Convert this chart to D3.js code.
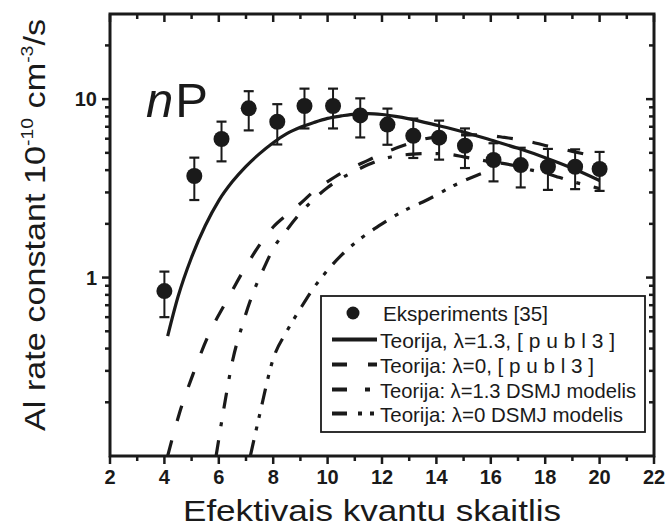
<!DOCTYPE html>
<html><head><meta charset="utf-8">
<script src="https://cdn.jsdelivr.net/npm/d3@7"></script>
<style>html,body{margin:0;padding:0;background:#fff;}svg{display:block;}</style>
</head><body>
<svg id="chart" width="666" height="528"></svg>
<script>
// ---- data ----
const expX   = [4, 5.1, 6.1, 7.1, 8.15, 9.15, 10.2, 11.2, 12.2, 13.15, 14.1, 15.05, 16.1, 17.1, 18.1, 19.1, 20];
const expY   = [0.84, 3.71, 5.98, 8.88, 7.47, 9.15, 9.15, 8.1, 7.2, 6.23, 6.08, 5.48, 4.56, 4.27, 4.18, 4.18, 4.06];
const expErr = [0.24, 0.99, 1.5, 2.2, 1.9, 2.3, 2.3, 2.0, 1.65, 1.55, 1.5, 1.37, 1.1, 1.07, 1.08, 1.05, 1.0];

const solidX = [4.12, 4.5, 5.0, 5.5, 6.0, 6.5, 7.0, 7.5, 8.0, 8.5, 9.0, 9.5, 10, 10.5, 11, 11.5, 12, 12.5, 13, 14, 15, 16, 17, 18, 19, 20];
const solidY = [0.47, 0.78, 1.3, 1.95, 2.7, 3.45, 4.2, 4.95, 5.7, 6.4, 6.95, 7.4, 7.8, 8.05, 8.25, 8.3, 8.2, 8.0, 7.75, 7.15, 6.55, 5.9, 5.3, 4.7, 4.1, 3.5];

const dashX = [4.12, 4.55, 5.04, 5.59, 6.33, 7.12, 8.0, 8.5, 9.0, 9.5, 10, 10.5, 11, 11.5, 12, 12.5, 13, 13.5, 14, 14.5, 15, 15.5, 16, 16.5, 17, 17.5, 18, 18.5, 19, 19.5, 20];
const dashY = [0.1, 0.173, 0.284, 0.464, 0.76, 1.24, 1.92, 2.25, 2.6, 3.05, 3.45, 3.85, 4.2, 4.55, 4.95, 5.3, 5.65, 5.95, 6.15, 6.25, 6.3, 6.3, 6.25, 6.1, 5.95, 5.75, 5.5, 5.3, 5.1, 4.9, 4.7];

const dashDotX = [5.9, 6.2, 6.51, 6.88, 7.3, 7.67, 8.0, 8.5, 9.0, 9.5, 10, 10.5, 11, 11.5, 12, 12.5, 13, 13.5, 14, 14.5, 15, 15.5, 16, 16.5, 17, 17.5, 18, 18.5, 19, 19.5, 20];
const dashDotY = [0.1, 0.19, 0.344, 0.55, 0.85, 1.14, 1.45, 1.85, 2.3, 2.75, 3.2, 3.6, 3.95, 4.3, 4.6, 4.8, 4.9, 4.95, 4.95, 4.9, 4.75, 4.6, 4.45, 4.35, 4.2, 4.0, 3.85, 3.65, 3.45, 3.3, 3.15];

const dddX = [7.16, 7.5, 8.0, 8.5, 9.0, 9.5, 10, 10.5, 11, 11.5, 12, 12.5, 13, 13.5, 14, 14.5, 15, 15.5, 15.8];
const dddY = [0.1, 0.17, 0.35, 0.5, 0.67, 0.88, 1.1, 1.33, 1.56, 1.78, 2.0, 2.23, 2.45, 2.65, 2.9, 3.2, 3.48, 3.75, 3.9];

const xMajor = [2, 4, 6, 8, 10, 12, 14, 16, 18, 20, 22];
const xMinor = [3, 5, 7, 9, 11, 13, 15, 17, 19, 21];
const yMajor = [1, 10];
const yMinor = [0.2, 0.3, 0.4, 0.5, 0.6, 0.7, 0.8, 0.9, 2, 3, 4, 5, 6, 7, 8, 9, 20];

const legendLabels = ["Eksperiments [35]", "Teorija, \u03bb=1.3, [ p u b l 3 ]", "Teorija: \u03bb=0, [ p u b l 3 ]", "Teorija: \u03bb=1.3 DSMJ modelis", "Teorija: \u03bb=0 DSMJ modelis"];
const legendWidths = [165, 235, 214, 256, 243];

// ---- layout ----
const L = 110, R = 654, T = 14, B = 456;
const svg = d3.select("#chart");
const x = d3.scaleLinear().domain([2, 22]).range([L, R]);
const y = d3.scaleLog().domain([0.1, 30]).range([B, T]);
const tickFont = "'Liberation Sans Narrow','Liberation Sans',Arial,sans-serif";
const textFont = "'Liberation Sans',Arial,sans-serif";

svg.append("defs").append("clipPath").attr("id", "clip")
  .append("rect").attr("x", L).attr("y", T).attr("width", R - L).attr("height", B - T);

const line = d3.line().x(d => x(d[0])).y(d => y(d[1])).curve(d3.curveMonotoneX);
const styles = [
  {xs: solidX, ys: solidY, dash: null},
  {xs: dashX, ys: dashY, dash: "16,20"},
  {xs: dashDotX, ys: dashDotY, dash: "16,14,4,14"},
  {xs: dddX, ys: dddY, dash: "16,10,4,9,4,10"}
];
const gCurves = svg.append("g").attr("clip-path", "url(#clip)");
styles.forEach(s => {
  gCurves.append("path")
    .attr("d", line(s.xs.map((v, i) => [v, s.ys[i]])))
    .attr("fill", "none").attr("stroke", "#1a1a1a").attr("stroke-width", 3.2)
    .attr("stroke-dasharray", s.dash);
});

// experimental points
const gPts = svg.append("g");
expX.forEach((xv, i) => {
  const lo = expY[i] - expErr[i], hi = expY[i] + expErr[i];
  const px = x(xv);
  gPts.append("line").attr("x1", px).attr("x2", px).attr("y1", y(lo)).attr("y2", y(hi))
    .attr("stroke", "#1a1a1a").attr("stroke-width", 2);
  [lo, hi].forEach(v => gPts.append("line").attr("x1", px - 5).attr("x2", px + 5)
    .attr("y1", y(v)).attr("y2", y(v)).attr("stroke", "#1a1a1a").attr("stroke-width", 2.2));
  gPts.append("circle").attr("cx", px).attr("cy", y(expY[i])).attr("r", 8).attr("fill", "#1a1a1a");
});

// frame
svg.append("rect").attr("x", L).attr("y", T).attr("width", R - L).attr("height", B - T)
  .attr("fill", "none").attr("stroke", "#1a1a1a").attr("stroke-width", 3);

// ticks
const gT = svg.append("g").attr("stroke", "#1a1a1a").attr("stroke-width", 2.5);
xMajor.forEach(v => {
  gT.append("line").attr("x1", x(v)).attr("x2", x(v)).attr("y1", B).attr("y2", B + 8);
  gT.append("line").attr("x1", x(v)).attr("x2", x(v)).attr("y1", T).attr("y2", T + 8);
});
xMinor.forEach(v => {
  gT.append("line").attr("x1", x(v)).attr("x2", x(v)).attr("y1", B).attr("y2", B + 5);
  gT.append("line").attr("x1", x(v)).attr("x2", x(v)).attr("y1", T).attr("y2", T + 5);
});
yMajor.forEach(v => {
  gT.append("line").attr("x1", L - 8).attr("x2", L).attr("y1", y(v)).attr("y2", y(v));
  gT.append("line").attr("x1", R - 8).attr("x2", R).attr("y1", y(v)).attr("y2", y(v));
});
yMinor.forEach(v => {
  gT.append("line").attr("x1", L - 5).attr("x2", L).attr("y1", y(v)).attr("y2", y(v));
  gT.append("line").attr("x1", R - 5).attr("x2", R).attr("y1", y(v)).attr("y2", y(v));
});

// tick labels
svg.append("g").selectAll("text").data(xMajor).join("text")
  .attr("x", d => x(d)).attr("y", 484).attr("text-anchor", "middle")
  .attr("font-family", tickFont).attr("font-weight", "bold").attr("font-size", 20)
  .attr("fill", "#1a1a1a").text(d => d);
svg.append("g").selectAll("text").data(yMajor).join("text")
  .attr("x", 97).attr("y", d => y(d) + 7).attr("text-anchor", "end")
  .attr("font-family", tickFont).attr("font-weight", "bold").attr("font-size", 20)
  .attr("fill", "#1a1a1a").text(d => d);

// axis titles
svg.append("text").attr("x", 372).attr("y", 521).attr("text-anchor", "middle")
  .attr("font-family", textFont).attr("font-size", 29).attr("fill", "#1a1a1a")
  .attr("textLength", 378).attr("lengthAdjust", "spacingAndGlyphs")
  .text("Efektivais kvantu skaitlis");

const yt = svg.append("text").attr("transform", "translate(45,225) rotate(-90)")
  .attr("text-anchor", "middle").attr("font-family", textFont).attr("font-size", 30)
  .attr("fill", "#1a1a1a").attr("textLength", 412).attr("lengthAdjust", "spacingAndGlyphs");
yt.append("tspan").text("Al rate constant 10");
yt.append("tspan").attr("dy", -12).attr("font-size", 17).text("-10");
yt.append("tspan").attr("dy", 12).text(" cm");
yt.append("tspan").attr("dy", -12).attr("font-size", 17).text("-3");
yt.append("tspan").attr("dy", 12).text("/s");

// nP label
const np = svg.append("text").attr("x", 146).attr("y", 117)
  .attr("font-family", textFont).attr("font-size", 49).attr("fill", "#1a1a1a");
np.append("tspan").attr("font-style", "italic").text("n");
np.append("tspan").attr("dx", 2).text("P");

// legend
const lg = svg.append("g");
lg.append("rect").attr("x", 321).attr("y", 296).attr("width", 324).attr("height", 136)
  .attr("fill", "#fff").attr("stroke", "#1a1a1a").attr("stroke-width", 1.8);
const rowY = [313, 339.5, 364.5, 389.5, 413.5];
lg.append("circle").attr("cx", 353).attr("cy", rowY[0]).attr("r", 6.5).attr("fill", "#1a1a1a");
const legDash = [null, "15,21", "15,18,5,18", "15,11,4,8,4,11"];
legDash.forEach((d, i) => {
  lg.append("line").attr("x1", 332).attr("x2", 377).attr("y1", rowY[i + 1]).attr("y2", rowY[i + 1])
    .attr("stroke", "#1a1a1a").attr("stroke-width", 4).attr("stroke-dasharray", d);
});
legendLabels.forEach((t, i) => {
  lg.append("text").attr("x", i === 0 ? 383 : 380).attr("y", rowY[i] + 8)
    .attr("font-family", textFont).attr("font-size", 21).attr("fill", "#1a1a1a")
    .attr("textLength", legendWidths[i]).attr("lengthAdjust", "spacingAndGlyphs")
    .text(t);
});
</script>
</body></html>
